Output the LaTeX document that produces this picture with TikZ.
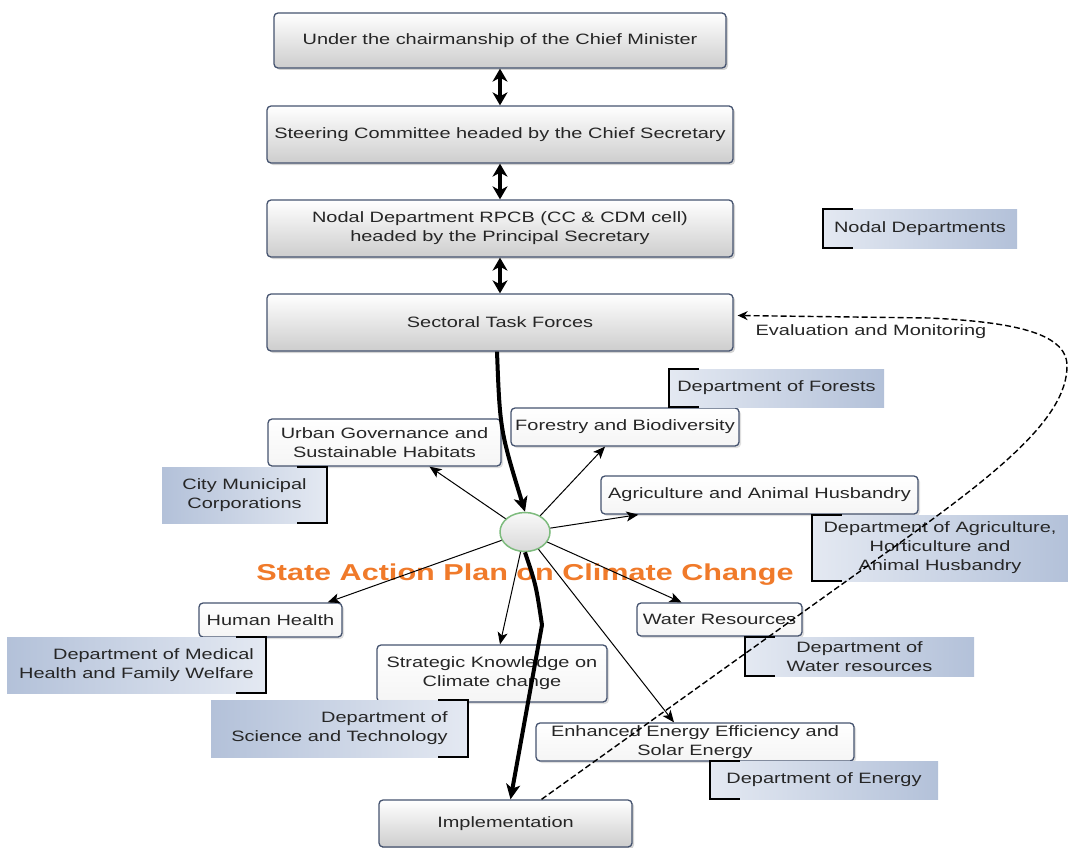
\documentclass[tikz,border=0pt]{standalone}
\usepackage{fontspec}
\setmainfont{Liberation Sans}[FakeStretch=1.33]
\usetikzlibrary{arrows.meta,positioning,shapes.geometric,shadows}

\definecolor{boxline}{HTML}{45536F}
\definecolor{boxgray}{HTML}{CDCDCD}
\definecolor{deptlight}{HTML}{E4E9F2}
\definecolor{deptdark}{HTML}{B3C1D9}
\definecolor{hubline}{HTML}{7DBB7D}
\definecolor{planorange}{HTML}{F07A2A}
\definecolor{txt}{HTML}{262626}

\tikzset{
  level/.style={draw=boxline, line width=1.3pt, rounded corners=4pt,
    top color=white, bottom color=boxgray, align=center,
    drop shadow={shadow xshift=2pt, shadow yshift=-2pt, opacity=0.35},
    minimum width=466pt, minimum height=57pt},
  sector/.style={draw=boxline, line width=1.3pt, rounded corners=4pt,
    top color=white, bottom color=gray!8, align=center, inner sep=0pt,
    drop shadow={shadow xshift=2pt, shadow yshift=-2pt, opacity=0.25}},
  deptL/.style={left color=deptlight, right color=deptdark, align=center, inner sep=0pt},
  deptR/.style={left color=deptdark, right color=deptlight, inner sep=0pt},
  hub/.style={ellipse, draw=hubline, line width=1.5pt, top color=gray!5,
    bottom color=gray!30, minimum width=50pt, minimum height=39pt},
  bracket/.style={line width=2.4pt, black},
  twoway/.style={line width=4pt,
    {Stealth[length=13pt,width=15pt,inset=4pt]}-{Stealth[length=13pt,width=15pt,inset=4pt]}},
  flow/.style={line width=4pt, -{Stealth[length=15pt,width=14pt,inset=4pt]}},
  spoke/.style={line width=1pt, -{Stealth[length=12pt,width=10pt,inset=3pt]}},
  feedback/.style={line width=1.4pt, dash pattern=on 6pt off 3pt,
    -{Stealth[length=10pt,width=9pt]}}
}

\begin{document}
\begin{tikzpicture}[x=1pt,y=-1pt,node distance=94pt,
                    every node/.style={font=\fontsize{15pt}{19pt}\selectfont,text=txt}]
  \useasboundingbox (0,0) rectangle (1068,848);

  % chain of committees
  \node[level, minimum width=452pt, minimum height=55pt] (cm) at (500,40.5) {Under the chairmanship of the Chief Minister};
  \node[level] (sc)  [below of=cm] {Steering Committee headed by the Chief Secretary};
  \node[level] (nd)  [below of=sc] {Nodal Department RPCB (CC \& CDM cell)\\headed by the Principal Secretary};
  \node[level] (stf) [below of=nd] {Sectoral Task Forces};
  \node[level, minimum width=253pt, minimum height=47pt] (impl) at (505.5,823.5) {Implementation};

  \node[deptL, minimum width=194pt, minimum height=39pt] (nodal) at (920,228.5) {Nodal Departments};

  % missions round the plan
  \node[hub] (hub) at (525,532) {};
  \node[font=\bfseries\fontsize{23pt}{27pt}\selectfont, text=planorange] (sapcc) at (525,575) {State Action Plan on Climate Change};

  \node[sector, minimum width=233pt, minimum height=47pt] (urban)  at (384.5,442.5) {Urban Governance and\\Sustainable Habitats};
  \node[sector, minimum width=228pt, minimum height=38pt] (forest) at (625,427) {Forestry and Biodiversity};
  \node[sector, minimum width=317pt, minimum height=38pt] (agri)   at (759.5,495) {Agriculture and Animal Husbandry};
  \node[sector, minimum width=165pt, minimum height=33pt] (water)  at (719.5,619.5) {Water Resources};
  \node[sector, minimum width=143pt, minimum height=34pt] (health) at (270.5,620) {Human Health};
  \node[sector, minimum width=230pt, minimum height=57pt] (sk)     at (492,673.5) {Strategic Knowledge on\\Climate change};
  \node[sector, minimum width=318pt, minimum height=38pt] (energy) at (695,742) {Enhanced Energy Efficiency and\\Solar Energy};

  % departments
  \node[deptR, minimum width=165pt, minimum height=56pt, align=center] (city) at (244.5,495) {City Municipal\\Corporations};
  \node[deptL, minimum width=215pt, minimum height=38pt] (forests) at (776.5,388) {Department of Forests};
  \node[deptL, minimum width=256pt, minimum height=66pt] (dagri)   at (940,548) {Department of Agriculture,\\Horticulture and\\Animal Husbandry};
  \node[deptL, minimum width=229pt, minimum height=39pt] (dwater)  at (859.5,656.5) {Department of\\Water resources};
  \node[deptR, minimum width=259pt, minimum height=56pt, align=right] (dmed) at (136.5,665) {Department of Medical\\Health and Family Welfare};
  \node[deptR, minimum width=257pt, minimum height=57pt, align=right] (dsci) at (339.5,728.5) {Department of\\Science and Technology};
  \node[deptL, minimum width=228pt, minimum height=38pt] (denergy) at (824,780) {Department of Energy};

  \foreach \d in {nodal,forests,dagri,dwater,denergy}
    \draw[bracket] ([xshift=30pt]\d.north west) -- (\d.north west) -- (\d.south west) -- ([xshift=30pt]\d.south west);
  \foreach \d in {city,dmed,dsci}
    \draw[bracket] ([xshift=-30pt]\d.north east) -- (\d.north east) -- (\d.south east) -- ([xshift=-30pt]\d.south east);

  % connectors
  \draw[twoway] (cm) -- (sc);
  \draw[twoway] (sc) -- (nd);
  \draw[twoway] (nd) -- (stf);

  \draw[flow] ([xshift=-3pt]stf.south) .. controls (500,430) .. (hub.north);
  \draw[flow] (hub.south) .. controls (536,585) .. (542,625) -- ([xshift=5pt]impl.north);

  \draw[spoke] (hub) -- ([xshift=45pt]urban.south);
  \draw[spoke] (hub) -- ([xshift=-20pt]forest.south);
  \draw[spoke] (hub) -- ([xshift=38pt]agri.south west);
  \draw[spoke] (hub) -- ([xshift=-38pt]water.north);
  \draw[spoke] (hub) -- ([xshift=-21pt]energy.north);
  \draw[spoke] (hub) -- ([xshift=8pt]sk.north);
  \draw[spoke] (hub) -- ([xshift=-15pt]health.north east);

  \draw[feedback] ([xshift=36pt]impl.north) -- (880,557)
    .. controls (990,479) and (1068,420) .. (1067,365)
    .. controls (1066,332) and (1010,322) .. (930,318)
    -- ([xshift=4pt,yshift=7pt]stf.east);
  \node (evallabel) at (871,332) {Evaluation and Monitoring};
\end{tikzpicture}
\end{document}
